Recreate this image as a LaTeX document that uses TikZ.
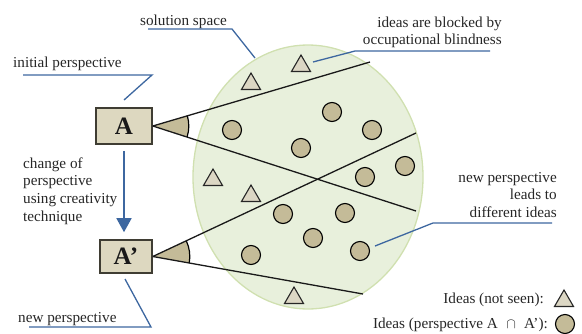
\documentclass[tikz,border=0pt]{standalone}
\usepackage{fontspec}
\setmainfont{Liberation Serif}
\usetikzlibrary{shapes.geometric,arrows.meta}
\definecolor{calloutblue}{HTML}{3D67A0}
\definecolor{boxfill}{HTML}{DDD8C0}
\definecolor{boxborder}{HTML}{3F3D33}
\definecolor{ideafill}{HTML}{C4BB98}
\definecolor{trifill}{HTML}{DCD7C4}
\definecolor{spacefill}{HTML}{E8F0DC}
\definecolor{spaceborder}{HTML}{D0E0B0}
\definecolor{textgray}{HTML}{262626}
\tikzset{
  persp/.style={draw=boxborder, line width=1.6pt, fill=boxfill, inner sep=0pt,
    font=\bfseries\fontsize{25}{25}\selectfont, text=black!90},
  idea/.style={circle, draw=black, line width=1.1pt, fill=ideafill, minimum size=19pt, inner sep=0pt},
  unseen/.style={regular polygon, regular polygon sides=3, draw=black!85, line width=1.1pt,
    fill=trifill, minimum size=22pt, inner sep=0pt},
  callout/.style={draw=calloutblue, line width=1.3pt},
  ray/.style={draw=black!90, line width=1.3pt},
  lbl/.style={text=textgray, font=\fontsize{15.2}{17.6}\selectfont, inner sep=0pt},
  wedgefill/.style={fill=ideafill},
}
\begin{document}
\begin{tikzpicture}[x=1pt,y=1pt]
\useasboundingbox (0,0) rectangle (582,-333);
% solution space
\node[ellipse, draw=spaceborder, line width=1.3pt, fill=spacefill, minimum width=230pt, minimum height=264pt, inner sep=0pt] (space) at (308,-177) {};
% perspective boxes
\node[persp, minimum width=56pt, minimum height=36pt] (A) at (124,-126) {A};
\node[persp, minimum width=52pt, minimum height=33pt] (Ap) at (126,-256.5) {A’};
% ray end points
\coordinate (r1) at (370,-62);
\coordinate (r2) at (416,-211);
\coordinate (r3) at (416,-133);
\coordinate (r4) at (363,-294);
% wedges
\fill[wedgefill] (A.east) -- ++(16.4:36pt) arc[start angle=16.4, end angle=-17.8, radius=36pt] -- cycle;
\draw[line width=1.2pt] (A.east) ++(16.4:36pt) arc[start angle=16.4, end angle=-17.8, radius=36pt];
\fill[wedgefill] (Ap.east) -- ++(25.1:37pt) arc[start angle=25.1, end angle=-10.1, radius=37pt] -- cycle;
\draw[line width=1.2pt] (Ap.east) ++(25.1:37pt) arc[start angle=25.1, end angle=-10.1, radius=37pt];
% rays
\draw[ray] (A.east) -- (r1);
\draw[ray] (A.east) -- (r2);
\draw[ray] (Ap.east) -- (r3);
\draw[ray] (Ap.east) -- (r4);
% ideas seen
\node[idea] (c1) at (232,-130) {};
\node[idea] (c2) at (332,-112) {};
\node[idea] (c3) at (372,-130) {};
\node[idea] (c4) at (301,-148) {};
\node[idea] (c5) at (405,-166) {};
\node[idea] (c6) at (365,-177) {};
\node[idea] (c7) at (283,-214) {};
\node[idea] (c8) at (345,-213) {};
\node[idea] (c9) at (313,-238) {};
\node[idea] (c10) at (251,-255) {};
\node[idea] (c11) at (360,-251) {};
% ideas not seen
\node[unseen] (t1) at (251,-84) {};
\node[unseen] (t2) at (301,-66) {};
\node[unseen] (t3) at (213,-180) {};
\node[unseen] (t4) at (251,-196) {};
\node[unseen] (t5) at (294,-298) {};
% change arrow
\draw[draw=calloutblue, line width=1.6pt, shorten <=6pt, shorten >=7pt,
  -{Triangle[width=15pt,length=14pt]}] (A.south) -- (A.south |- Ap.north);
% labels
\node[lbl, anchor=base west] (lss) at (140,-25) {solution space};
\node[lbl, anchor=base west] (lip) at (13,-67) {initial perspective};
\node[lbl, anchor=north west, align=left] (lch) at (23,-155.7) {\strut change of\\perspective\\using creativity\\technique};
\node[lbl, anchor=base west] (lnp) at (18,-322) {new perspective};
\node[lbl, anchor=north east, align=right] (lbb) at (502,-14.7) {\strut ideas are blocked by\\occupational blindness};
\node[lbl, anchor=north east, align=right] (lld) at (557,-169.7) {\strut new perspective\\leads to\\different ideas};
\node[lbl, anchor=base east] (leg1) at (544,-303) {Ideas (not seen):};
\node[lbl, anchor=base east] (leg2) at (548,-328) {Ideas (perspective A\hspace{4.5pt} $\cap$ \hspace{4.5pt}A’):};
\node[unseen] (lt) at (564,-301) {};
\node[idea] (lc) at (565,-324) {};
% callouts
\coordinate (s1) at (148,-29); \coordinate (s2) at (232,-29); \coordinate (s3) at (255,-58);
\draw[callout] (s1) -- (s2) -- (s3);
\coordinate (i1) at (23,-75); \coordinate (i2) at (152,-75); \coordinate (i3) at (124,-100);
\draw[callout] (i1) -- (i2) -- (i3);
\coordinate (n1) at (29,-327); \coordinate (n2) at (151,-327); \coordinate (n3) at (125,-279);
\draw[callout] (n1) -- (n2) -- (n3);
\coordinate (b1) at (313,-62); \coordinate (b2) at (355,-51); \coordinate (b3) at (490,-51);
\draw[callout] (b1) -- (b2) -- (b3);
\coordinate (d1) at (375,-246); \coordinate (d2) at (433,-223); \coordinate (d3) at (552,-223);
\draw[callout] (d1) -- (d2) -- (d3);
\end{tikzpicture}
\end{document}
